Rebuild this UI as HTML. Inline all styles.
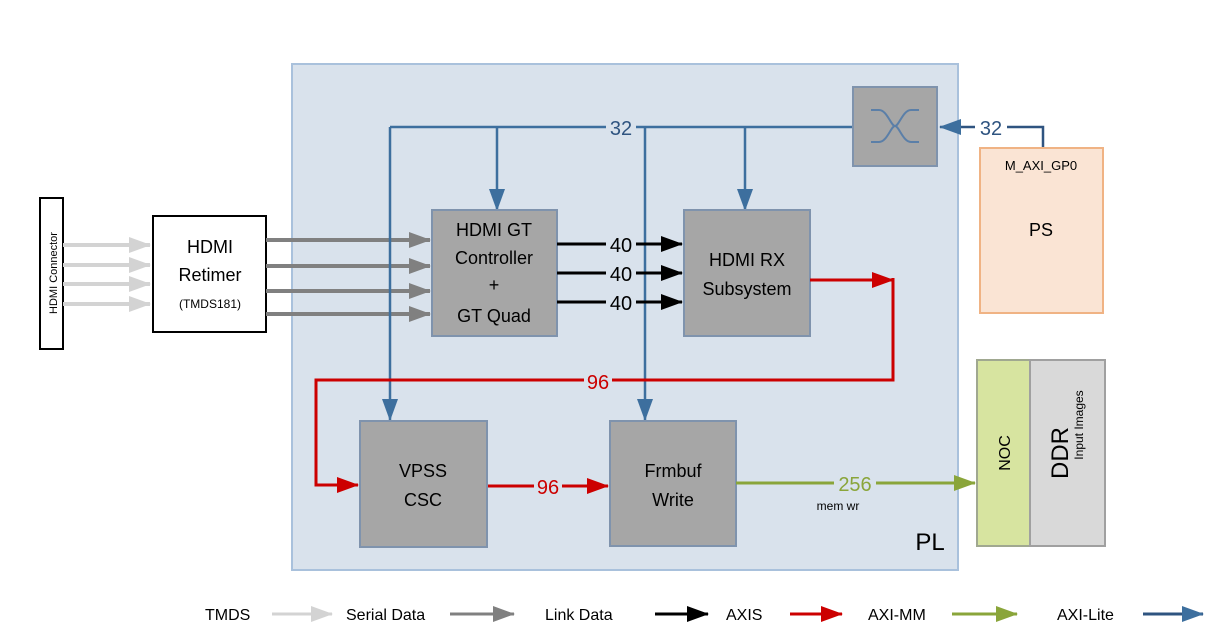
<!DOCTYPE html>
<html><head><meta charset="utf-8"><style>
html,body{margin:0;padding:0;background:#fff;}
svg{display:block;font-family:"Liberation Sans",sans-serif;}
</style></head><body>
<svg width="1231" height="644" viewBox="0 0 1231 644" xmlns="http://www.w3.org/2000/svg">
<defs>
<marker id="aB" markerWidth="10" markerHeight="10" refX="9" refY="5" orient="auto" markerUnits="userSpaceOnUse" viewBox="0 0 10 10"><path d="M0,0 L10,5 L0,10z" fill="#3d6f9e"/></marker>
<marker id="aBL" markerWidth="22" markerHeight="16" refX="21" refY="8" orient="auto" markerUnits="userSpaceOnUse"><path d="M0,0 L22,8 L0,16z" fill="#3d6f9e"/></marker>
<marker id="aK" markerWidth="22" markerHeight="16" refX="21" refY="8" orient="auto" markerUnits="userSpaceOnUse"><path d="M0,0 L22,8 L0,16z" fill="#000"/></marker>
<marker id="aR" markerWidth="22" markerHeight="16" refX="21" refY="8" orient="auto" markerUnits="userSpaceOnUse"><path d="M0,0 L22,8 L0,16z" fill="#cc0000"/></marker>
<marker id="aG" markerWidth="22" markerHeight="16" refX="21" refY="8" orient="auto" markerUnits="userSpaceOnUse"><path d="M0,0 L22,8 L0,16z" fill="#8aa53a"/></marker>
<marker id="aS" markerWidth="22" markerHeight="16" refX="21" refY="8" orient="auto" markerUnits="userSpaceOnUse"><path d="M0,0 L22,8 L0,16z" fill="#808080"/></marker>
<marker id="aL" markerWidth="22" markerHeight="16" refX="21" refY="8" orient="auto" markerUnits="userSpaceOnUse"><path d="M0,0 L22,8 L0,16z" fill="#d3d3d3"/></marker>
<marker id="aV" markerWidth="16" markerHeight="22" refX="8" refY="21" orient="0" markerUnits="userSpaceOnUse"><path d="M0,0 L16,0 L8,22z" fill="#3d6f9e"/></marker>
</defs>

<!-- PL region -->
<rect x="292" y="64" width="666" height="506" fill="#d9e2ec" stroke="#a9c1dc" stroke-width="2"/>
<text x="930" y="550" font-size="24" text-anchor="middle" fill="#000">PL</text>

<!-- HDMI connector -->
<rect x="40" y="198" width="23" height="151" fill="#fff" stroke="#000" stroke-width="2"/>
<text transform="translate(57,273) rotate(-90)" font-size="11" text-anchor="middle">HDMI Connector</text>

<!-- TMDS arrows -->
<g stroke="#d3d3d3" stroke-width="4">
<line x1="63" y1="245" x2="150" y2="245" marker-end="url(#aL)"/>
<line x1="63" y1="265" x2="150" y2="265" marker-end="url(#aL)"/>
<line x1="63" y1="284" x2="150" y2="284" marker-end="url(#aL)"/>
<line x1="63" y1="304" x2="150" y2="304" marker-end="url(#aL)"/>
</g>

<!-- Retimer -->
<rect x="153" y="216" width="113" height="116" fill="#fff" stroke="#000" stroke-width="2"/>
<text x="210" y="253" font-size="18" text-anchor="middle">HDMI</text>
<text x="210" y="281" font-size="18" text-anchor="middle">Retimer</text>
<text x="210" y="308" font-size="12" text-anchor="middle">(TMDS181)</text>

<!-- Serial data arrows -->
<g stroke="#808080" stroke-width="4">
<line x1="266" y1="240" x2="430" y2="240" marker-end="url(#aS)"/>
<line x1="266" y1="266" x2="430" y2="266" marker-end="url(#aS)"/>
<line x1="266" y1="291" x2="430" y2="291" marker-end="url(#aS)"/>
<line x1="266" y1="314" x2="430" y2="314" marker-end="url(#aS)"/>
</g>

<!-- Blue AXI-lite bus -->
<g stroke="#3d6f9e" stroke-width="2.5" fill="none">
<line x1="390" y1="127" x2="853" y2="127"/>
<line x1="390" y1="127" x2="390" y2="420" marker-end="url(#aV)"/>
<line x1="645" y1="127" x2="645" y2="420" marker-end="url(#aV)"/>
<line x1="497" y1="127" x2="497" y2="210" marker-end="url(#aV)"/>
<line x1="745" y1="127" x2="745" y2="210" marker-end="url(#aV)"/>
<polyline points="1043,148 1043,127 940,127" stroke="#2f5480" marker-end="url(#aBL)"/>
</g>
<rect x="606" y="115" width="30" height="22" fill="#d9e2ec"/>
<text x="621" y="135" font-size="20" fill="#2f5480" text-anchor="middle">32</text>
<rect x="975" y="115" width="32" height="22" fill="#fff"/>
<text x="991" y="135" font-size="20" fill="#2f5480" text-anchor="middle">32</text>

<!-- Switch -->
<rect x="853" y="87" width="84" height="79" fill="#a6a6a6" stroke="#7f93ad" stroke-width="2"/>
<path d="M871,110 h8 c8,0 12,16 16,16 c4,0 8,16 16,16 h8 M871,142 h8 c8,0 12,-16 16,-16 c4,0 8,-16 16,-16 h8" stroke="#5b7fa8" stroke-width="2" fill="none"/>

<!-- PS -->
<rect x="980" y="148" width="123" height="165" fill="#fae4d4" stroke="#f0b384" stroke-width="2"/>
<text x="1041" y="170" font-size="13" text-anchor="middle">M_AXI_GP0</text>
<text x="1041" y="236" font-size="18" text-anchor="middle">PS</text>

<!-- GT -->
<rect x="432" y="210" width="125" height="126" fill="#a6a6a6" stroke="#7f93ad" stroke-width="2"/>
<text x="494" y="236" font-size="18" text-anchor="middle">HDMI GT</text>
<text x="494" y="264" font-size="18" text-anchor="middle">Controller</text>
<text x="494" y="291" font-size="18" text-anchor="middle">+</text>
<text x="494" y="322" font-size="18" text-anchor="middle">GT Quad</text>

<!-- RX -->
<rect x="684" y="210" width="126" height="126" fill="#a6a6a6" stroke="#7f93ad" stroke-width="2"/>
<text x="747" y="266" font-size="18" text-anchor="middle">HDMI RX</text>
<text x="747" y="295" font-size="18" text-anchor="middle">Subsystem</text>

<!-- link data -->
<g stroke="#000" stroke-width="3">
<line x1="557" y1="244" x2="682" y2="244" marker-end="url(#aK)"/>
<line x1="557" y1="273" x2="682" y2="273" marker-end="url(#aK)"/>
<line x1="557" y1="302" x2="682" y2="302" marker-end="url(#aK)"/>
</g>
<g font-size="20" text-anchor="middle">
<rect x="606" y="233" width="30" height="22" fill="#d9e2ec"/><text x="621" y="252">40</text>
<rect x="606" y="262" width="30" height="22" fill="#d9e2ec"/><text x="621" y="281">40</text>
<rect x="606" y="291" width="30" height="22" fill="#d9e2ec"/><text x="621" y="310">40</text>
</g>

<!-- Red AXIS -->
<g stroke="#cc0000" stroke-width="3" fill="none">
<line x1="810" y1="280" x2="893" y2="280" marker-end="url(#aR)"/>
<polyline points="893,278 893,380 316,380 316,485 358,485" marker-end="url(#aR)"/>
<line x1="487" y1="486" x2="608" y2="486" marker-end="url(#aR)"/>
</g>
<rect x="584" y="369" width="28" height="22" fill="#d9e2ec"/>
<text x="598" y="389" font-size="20" fill="#cc0000" text-anchor="middle">96</text>
<rect x="534" y="475" width="28" height="22" fill="#d9e2ec"/>
<text x="548" y="494" font-size="20" fill="#cc0000" text-anchor="middle">96</text>

<!-- VPSS -->
<rect x="360" y="421" width="127" height="126" fill="#a6a6a6" stroke="#7f93ad" stroke-width="2"/>
<text x="423" y="477" font-size="18" text-anchor="middle">VPSS</text>
<text x="423" y="506" font-size="18" text-anchor="middle">CSC</text>

<!-- Frmbuf -->
<rect x="610" y="421" width="126" height="125" fill="#a6a6a6" stroke="#7f93ad" stroke-width="2"/>
<text x="673" y="477" font-size="18" text-anchor="middle">Frmbuf</text>
<text x="673" y="506" font-size="18" text-anchor="middle">Write</text>

<!-- Green -->
<line x1="736" y1="483" x2="975" y2="483" stroke="#8aa53a" stroke-width="3" marker-end="url(#aG)"/>
<rect x="834" y="472" width="42" height="22" fill="#d9e2ec"/>
<text x="855" y="491" font-size="20" fill="#8aa53a" text-anchor="middle">256</text>
<text x="838" y="510" font-size="12" text-anchor="middle">mem wr</text>

<!-- NOC / DDR -->
<rect x="977" y="360" width="53" height="186" fill="#d7e4a0" stroke="#a0a890" stroke-width="2"/>
<text transform="translate(1010,453) rotate(-90)" font-size="16" text-anchor="middle">NOC</text>
<rect x="1030" y="360" width="75" height="186" fill="#d9d9d9" stroke="#a0a0a0" stroke-width="2"/>
<text transform="translate(1068,453) rotate(-90)" font-size="24" text-anchor="middle">DDR</text>
<text transform="translate(1083,425) rotate(-90)" font-size="12" text-anchor="middle">Input Images</text>

<!-- Legend -->
<g font-size="16">
<text x="205" y="620">TMDS</text>
<line x1="272" y1="614" x2="332" y2="614" stroke="#d3d3d3" stroke-width="3" marker-end="url(#aL)"/>
<text x="346" y="620">Serial Data</text>
<line x1="450" y1="614" x2="514" y2="614" stroke="#808080" stroke-width="3" marker-end="url(#aS)"/>
<text x="545" y="620">Link Data</text>
<line x1="655" y1="614" x2="708" y2="614" stroke="#000" stroke-width="3" marker-end="url(#aK)"/>
<text x="726" y="620">AXIS</text>
<line x1="790" y1="614" x2="842" y2="614" stroke="#cc0000" stroke-width="3" marker-end="url(#aR)"/>
<text x="868" y="620">AXI-MM</text>
<line x1="952" y1="614" x2="1017" y2="614" stroke="#8aa53a" stroke-width="3" marker-end="url(#aG)"/>
<text x="1057" y="620">AXI-Lite</text>
<line x1="1143" y1="614" x2="1203" y2="614" stroke="#2f5480" stroke-width="3" marker-end="url(#aBL)"/>
</g>
</svg>
</body></html>
